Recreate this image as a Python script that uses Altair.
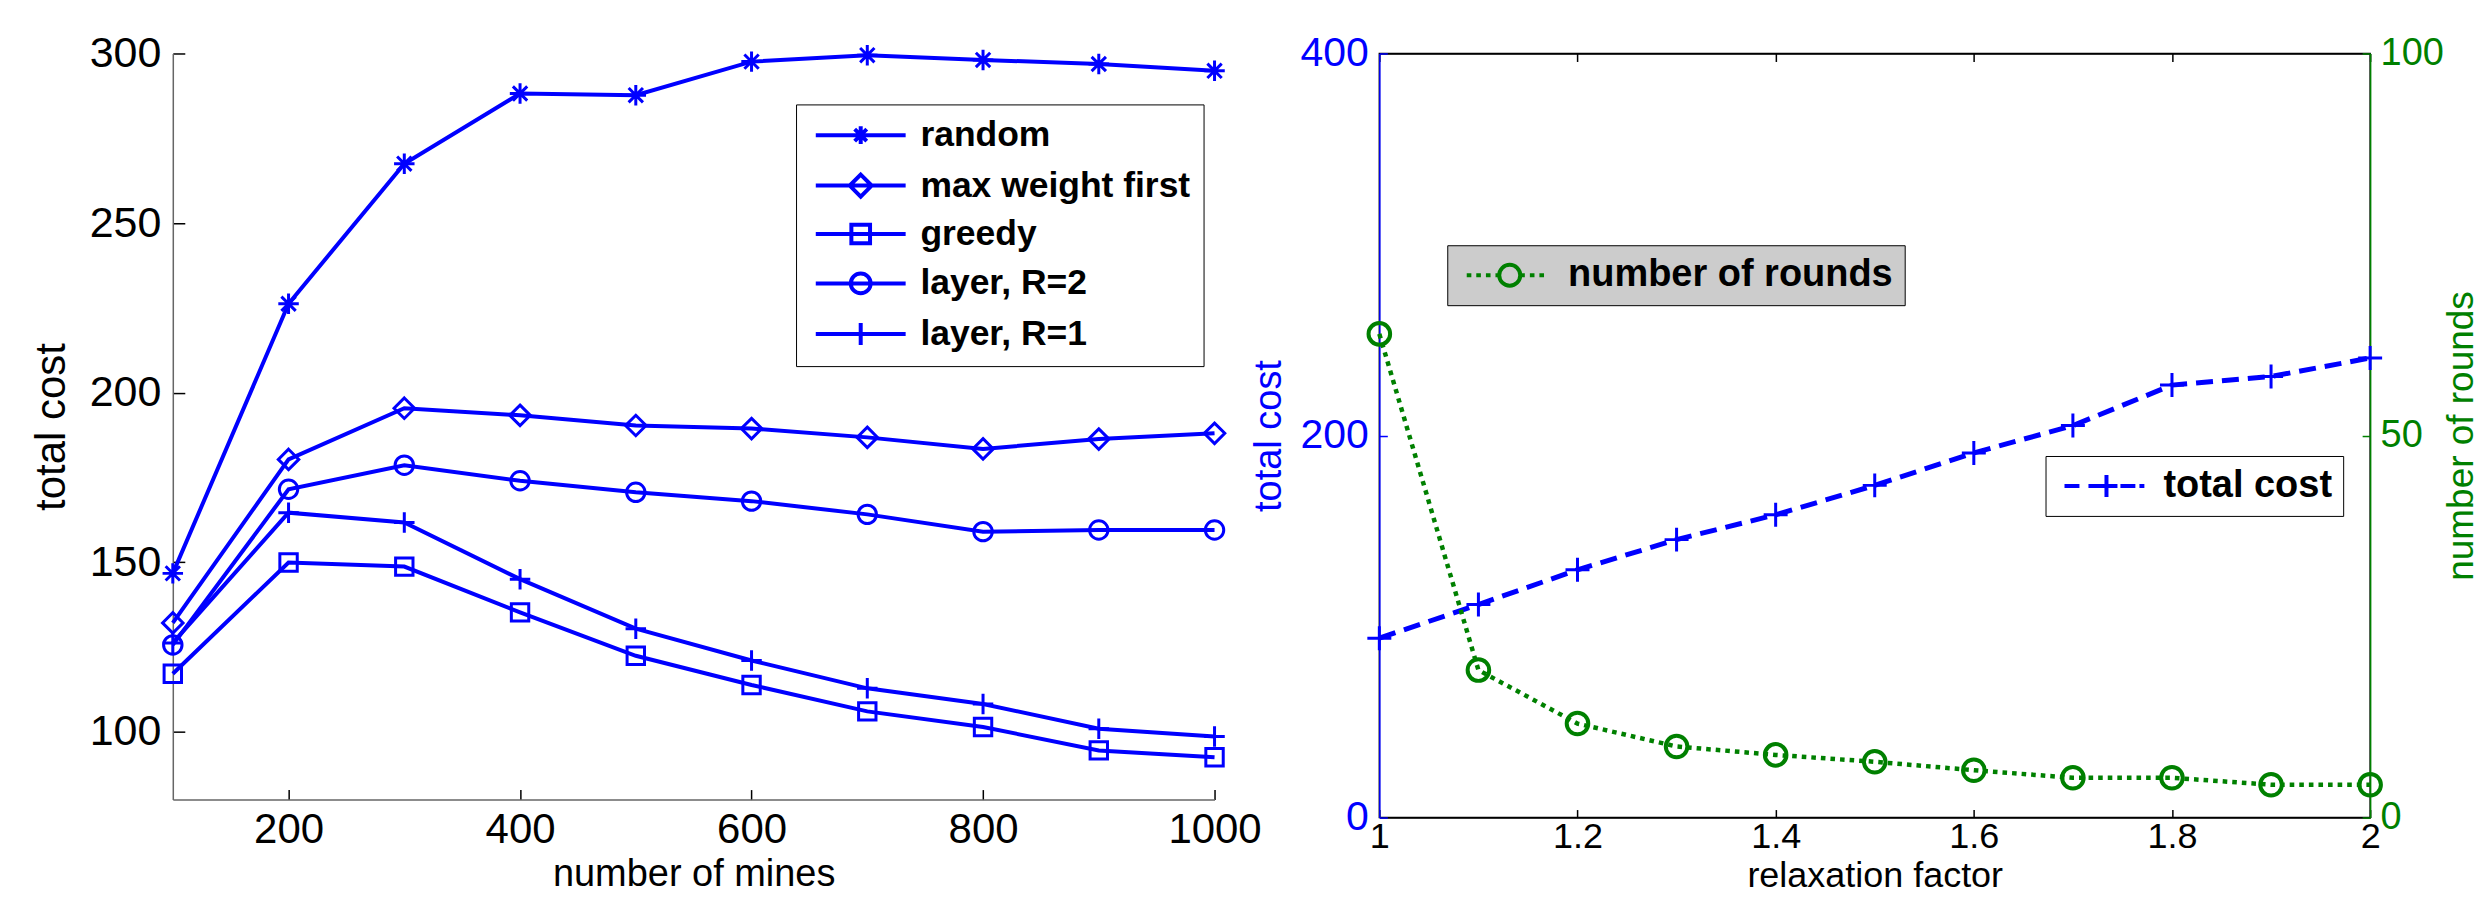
import altair as alt
import pandas as pd

FONT = "Liberation Sans"
BLUE = "#0000FF"
GREEN = "#008000"

# ---------------- data: left panel ----------------
mines = [100, 200, 300, 400, 500, 600, 700, 800, 900, 1000]
series_names = ["random", "max weight first", "greedy", "layer, R=2", "layer, R=1"]
cost_random = [146.7, 226.2, 267.5, 288.2, 287.7, 297.6, 299.5, 298.1, 296.9, 294.9]
cost_maxw = [132.1, 180.3, 195.4, 193.3, 190.3, 189.4, 186.8, 183.4, 186.3, 188.0]
cost_greedy = [117.1, 149.9, 148.7, 135.2, 122.4, 113.8, 106.0, 101.4, 94.5, 92.5]
cost_layer2 = [125.6, 171.5, 178.6, 174.0, 170.6, 168.0, 164.1, 159.0, 159.5, 159.5]
cost_layer1 = [126.2, 164.6, 161.7, 145.0, 130.4, 121.0, 112.8, 108.2, 100.9, 98.6]
x_ticks_left = [200, 400, 600, 800, 1000]
y_ticks_left = [100, 150, 200, 250, 300]

# ---------------- data: right panel ----------------
relax = [1.0, 1.1, 1.2, 1.3, 1.4, 1.5, 1.6, 1.7, 1.8, 1.9, 2.0]
total_cost = [93.9, 111.5, 129.7, 145.5, 158.5, 173.9, 190.9, 205.2, 226.4, 230.9, 240.6]
num_rounds = [63.3, 19.3, 12.3, 9.3, 8.2, 7.3, 6.2, 5.2, 5.2, 4.3, 4.3]
x_ticks_right = [1, 1.2, 1.4, 1.6, 1.8, 2]
y_ticks_cost = [0, 200, 400]
y_ticks_rounds = [0, 50, 100]

all_left = [cost_random, cost_maxw, cost_greedy, cost_layer2, cost_layer1]
rows = []
for name, vals in zip(series_names, all_left):
    for m, v in zip(mines, vals):
        rows.append({"series": name, "mines": m, "cost": v})
df_left = pd.DataFrame(rows)

df_cost = pd.DataFrame({"relax": relax, "cost": total_cost, "name": "total cost"})
df_rounds = pd.DataFrame({"relax": relax, "rounds": num_rounds, "name": "number of rounds"})

# ---------------- marker shapes (unit paths) ----------------
P_AST = "M-1,0H1M0,-1V1M-0.7,-0.7L0.7,0.7M-0.7,0.7L0.7,-0.7"
P_DIA = "M0,-1L1,0L0,1L-1,0Z"
P_SQ = "M-0.85,-0.85H0.85V0.85H-0.85Z"
P_CIR = "M0.9,0A0.9,0.9 0 1,1 -0.9,0A0.9,0.9 0 1,1 0.9,0Z"
P_PLUS = "M-1,0H1M0,-1V1"
marker_paths = [P_AST, P_DIA, P_SQ, P_CIR, P_PLUS]

# legend symbols: line + marker (marker centred at c)
c = 3.09
L = "M-1,0H7.18"
leg_paths = [
    L + f"M{c-0.8},0H{c+0.8}M{c},-0.8V0.8M{c-0.55},-0.55L{c+0.55},0.55M{c-0.55},0.55L{c+0.55},-0.55",
    L + f"M{c},-1L{c+1},0L{c},1L{c-1},0Z",
    L + f"M{c-0.85},-0.85H{c+0.85}V0.85H{c-0.85}Z",
    L + f"M{c+0.9},0A0.9,0.9 0 1,1 {c-0.9},0A0.9,0.9 0 1,1 {c+0.9},0Z",
    L + f"M{c},-1V1",
]

cc = 3.1
leg_rounds = ("M-1,0H-0.56M-0.09,0H0.35M0.83,0H1.27M1.74,0H2.1"
              "M4.1,0H4.54M5.02,0H5.46M5.93,0H6.37"
              f"M{cc+1},0A1,1 0 1,1 {cc-1},0A1,1 0 1,1 {cc+1},0Z")
cp = 2.82
leg_cost = ("M-1,0H0.36M1.18,0H2.55M4.09,0H5.45M5.82,0H6.27"
            f"M{cp-1},0H{cp+1}M{cp},-1V1")

# ---------------- left panel ----------------
xL = alt.X("mines:Q", scale=alt.Scale(domain=[100, 1000], nice=False, zero=False),
           axis=alt.Axis(values=x_ticks_left, format="d", title="number of mines", labelFontSize=42,
                         titleFontSize=38, labelFlush=False, labelOverlap=False,
                         tickSize={"expr": "-10"}, tickColor="black", tickWidth=1.5,
                         domainColor="#666666", domainWidth=1.5, labelPadding=20,
                         titlePadding=5, labelColor="black", titleColor="black"))
yL = alt.Y("cost:Q", scale=alt.Scale(domain=[80, 300], nice=False, zero=False),
           axis=alt.Axis(values=y_ticks_left, title="total cost", labelFontSize=43,
                         titleFontSize=42, labelFlush=False, labelOverlap=False,
                         tickSize={"expr": "-12"}, tickColor="black", tickWidth=1.5,
                         domainColor="#666666", domainWidth=1.5, labelPadding=24,
                         titlePadding=16, labelColor="black", titleColor="black"))

lines_l = alt.Chart(df_left).mark_line(color=BLUE, strokeWidth=4).encode(
    x=xL, y=yL, detail="series:N", order="mines:Q")
pts_l = alt.Chart(df_left).mark_point(filled=False, color=BLUE, strokeWidth=3, size=420, opacity=1).encode(
    x=xL, y=yL,
    shape=alt.Shape("series:N", scale=alt.Scale(domain=series_names, range=marker_paths), legend=None))
leg_l = alt.Chart(df_left).mark_point(filled=False, color=BLUE, opacity=0).encode(
    x=xL, y=yL,
    shape=alt.Shape("series:N", scale=alt.Scale(domain=series_names, range=leg_paths),
                    legend=alt.Legend(title=None, orient="none", legendX=624, legendY=51,
                                      padding=13, fillColor="white", strokeColor="black",
                                      labelFont=FONT, labelFontSize=35.5, labelFontWeight="bold",
                                      labelColor="black", labelLimit=1000, symbolSize=484,
                                      symbolStrokeColor=BLUE, symbolFillColor="transparent",
                                      symbolStrokeWidth=4, symbolOpacity=1, rowPadding=11.5,
                                      labelOffset=76)))
left = alt.layer(lines_l, pts_l, leg_l).resolve_scale(shape="independent").properties(
    width=1043, height=747)

# ---------------- right panel ----------------
x_scale_r = alt.Scale(domain=[1, 2], nice=False, zero=False)
xR = alt.X("relax:Q", scale=x_scale_r,
           axis=alt.Axis(values=x_ticks_right, format="~g", title="relaxation factor",
                         labelFontSize=36, titleFontSize=36, labelFlush=False, labelOverlap=False,
                         tickSize={"expr": "-8"}, tickColor="black", tickWidth=1.5,
                         domainColor="black", domainWidth=1.5, labelPadding=10,
                         titlePadding=4, labelColor="black", titleColor="black"))
xR_plain = alt.X("relax:Q", scale=x_scale_r, axis=None)
xR_top = alt.X("relax:Q", scale=x_scale_r,
               axis=alt.Axis(orient="top", values=x_ticks_right, labels=False, title=None,
                             tickSize={"expr": "-8"}, tickColor="black", tickWidth=1.5,
                             domainColor="black", domainWidth=1.5))
yC = alt.Y("cost:Q", scale=alt.Scale(domain=[0, 400], nice=False, zero=False),
           axis=alt.Axis(orient="left", values=y_ticks_cost, title="total cost", labelFontSize=41,
                         titleFontSize=38, labelFlush=False, labelOverlap=False,
                         tickSize={"expr": "-8"}, tickColor=BLUE, tickWidth=1.5,
                         domainColor=BLUE, domainWidth=1.5, labelPadding=19,
                         titlePadding=12, labelColor=BLUE, titleColor=BLUE))
yN = alt.Y("rounds:Q", scale=alt.Scale(domain=[0, 100], nice=False, zero=False),
           axis=alt.Axis(orient="right", values=y_ticks_rounds, title="number of rounds",
                         labelFontSize=38, titleFontSize=37, labelFlush=False, labelOverlap=False,
                         tickSize={"expr": "-8"}, tickColor=GREEN, tickWidth=1.5,
                         domainColor=GREEN, domainWidth=1.5, labelPadding=18,
                         titlePadding=0, labelColor=GREEN, titleColor=GREEN,
                         titleAngle=270, titleBaseline="top"))

cost_line = alt.Chart(df_cost).mark_line(color=BLUE, strokeWidth=5, strokeDash=[17, 9]).encode(
    x=xR, y=yC, order="relax:Q")
cost_pts = alt.Chart(df_cost).mark_point(shape=P_PLUS, filled=False, color=BLUE, strokeWidth=3,
                                         size=576, opacity=1).encode(x=xR, y=yC)
cost_leg = alt.Chart(df_cost).mark_point(filled=False, color=BLUE, opacity=0).encode(
    x=xR, y=yC,
    shape=alt.Shape("name:N", scale=alt.Scale(domain=["total cost"], range=[leg_cost]),
                    legend=alt.Legend(title=None, orient="none", legendX=667, legendY=403,
                                      padding=11, fillColor="white", strokeColor="black",
                                      labelFont=FONT, labelFontSize=38, labelFontWeight="bold",
                                      labelColor="black", labelLimit=1000, symbolSize=484,
                                      symbolStrokeColor=BLUE, symbolFillColor="transparent",
                                      symbolStrokeWidth=4, symbolOpacity=1, labelOffset=69)))
layer_cost = alt.layer(cost_line, cost_pts, cost_leg)

rounds_line = alt.Chart(df_rounds).mark_line(color=GREEN, strokeWidth=4.5, strokeDash=[4.6, 5]).encode(
    x=xR_plain, y=yN, order="relax:Q")
rounds_pts = alt.Chart(df_rounds).mark_point(shape=P_CIR, filled=False, color=GREEN, strokeWidth=4,
                                             size=576, opacity=1).encode(x=xR_plain, y=yN)
rounds_leg = alt.Chart(df_rounds).mark_point(filled=False, color=GREEN, opacity=0).encode(
    x=xR_plain, y=yN,
    shape=alt.Shape("name:N", scale=alt.Scale(domain=["number of rounds"], range=[leg_rounds]),
                    legend=alt.Legend(title=None, orient="none", legendX=68, legendY=192,
                                      padding=11, fillColor="#CCCCCC", strokeColor="black",
                                      labelFont=FONT, labelFontSize=38, labelFontWeight="bold",
                                      labelColor="black", labelLimit=1000, symbolSize=441,
                                      symbolStrokeColor=GREEN, symbolFillColor="transparent",
                                      symbolStrokeWidth=4, symbolOpacity=1, labelOffset=72)))
layer_rounds = alt.layer(rounds_line, rounds_pts, rounds_leg)

top_axis = alt.Chart(df_cost).mark_point(opacity=0).encode(x=xR_top)

right = alt.layer(layer_cost, layer_rounds, top_axis).resolve_scale(
    y="independent", shape="independent").resolve_axis(x="independent").properties(
    width=992, height=765, view=alt.ViewBackground(stroke="black", strokeWidth=1.5))

chart = alt.hconcat(left, right, spacing=165, bounds="flush").properties(
    padding={"left": 21, "top": 23, "right": 0, "bottom": 0},
    background="white",
).configure_view(stroke="transparent").configure_axis(
    grid=False, labelFont=FONT, titleFont=FONT, titleFontWeight="normal")

chart.save("out.html", embed_options={"renderer": "svg", "actions": False})
